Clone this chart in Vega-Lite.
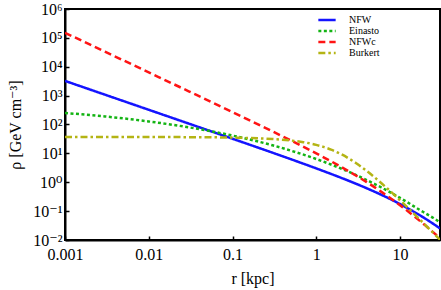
{
  "$schema": "https://vega.github.io/schema/vega-lite/v6.json",
  "width": 375,
  "height": 231,
  "autosize": {"type": "none"},
  "padding": {"left": 65, "top": 9, "right": 1, "bottom": 50},
  "background": "white",
  "config": {
    "view": {"stroke": "black", "strokeWidth": 2},
    "font": "Times New Roman, Liberation Serif, DejaVu Serif, serif",
    "axis": {
      "domainColor": "black", "domainWidth": 2, "tickColor": "black", "tickWidth": 1.5,
      "tickSize": -4, "grid": false, "labelColor": "black", "titleColor": "black",
      "labelFont": "Times New Roman, Liberation Serif, DejaVu Serif, serif", "titleFont": "Times New Roman, Liberation Serif, DejaVu Serif, serif",
      "labelFontSize": 16, "titleFontSize": 16, "titleFontWeight": "normal",
      "labelFlush": false, "labelOverlap": false, "labelBound": false
    },
    "legend": {
      "labelFont": "Times New Roman, Liberation Serif, DejaVu Serif, serif", "labelFontSize": 10, "labelColor": "black"
    }
  },
  "data": {
    "values": [
      {"model": "NFW", "r": 0.001, "rho": 3236},
      {"model": "NFW", "r": 0.003, "rho": 1078},
      {"model": "NFW", "r": 0.01, "rho": 323.2},
      {"model": "NFW", "r": 0.03, "rho": 107.6},
      {"model": "NFW", "r": 0.1, "rho": 32.13},
      {"model": "NFW", "r": 0.3, "rho": 10.56},
      {"model": "NFW", "r": 0.5, "rho": 6.247},
      {"model": "NFW", "r": 1, "rho": 3.017},
      {"model": "NFW", "r": 1.5, "rho": 1.943},
      {"model": "NFW", "r": 2, "rho": 1.41},
      {"model": "NFW", "r": 3, "rho": 0.88},
      {"model": "NFW", "r": 4, "rho": 0.6194},
      {"model": "NFW", "r": 5, "rho": 0.466},
      {"model": "NFW", "r": 6, "rho": 0.3658},
      {"model": "NFW", "r": 8, "rho": 0.2447},
      {"model": "NFW", "r": 10, "rho": 0.1757},
      {"model": "NFW", "r": 12, "rho": 0.1321},
      {"model": "NFW", "r": 15, "rho": 0.09148},
      {"model": "NFW", "r": 20, "rho": 0.0551},
      {"model": "NFW", "r": 25, "rho": 0.03613},
      {"model": "NFW", "r": 30, "rho": 0.02515},

      {"model": "Einasto", "r": 0.001, "rho": 251},
      {"model": "Einasto", "r": 0.003, "rho": 189.7},
      {"model": "Einasto", "r": 0.01, "rho": 127.4},
      {"model": "Einasto", "r": 0.03, "rho": 79.9},
      {"model": "Einasto", "r": 0.1, "rho": 41.3},
      {"model": "Einasto", "r": 0.3, "rho": 19.05},
      {"model": "Einasto", "r": 0.5, "rho": 12.4},
      {"model": "Einasto", "r": 1, "rho": 6.38},
      {"model": "Einasto", "r": 1.5, "rho": 4.11},
      {"model": "Einasto", "r": 2, "rho": 2.94},
      {"model": "Einasto", "r": 3, "rho": 1.762},
      {"model": "Einasto", "r": 4, "rho": 1.19},
      {"model": "Einasto", "r": 5, "rho": 0.865},
      {"model": "Einasto", "r": 6, "rho": 0.658},
      {"model": "Einasto", "r": 8, "rho": 0.417},
      {"model": "Einasto", "r": 10, "rho": 0.2865},
      {"model": "Einasto", "r": 12, "rho": 0.21},
      {"model": "Einasto", "r": 15, "rho": 0.14},
      {"model": "Einasto", "r": 20, "rho": 0.085},
      {"model": "Einasto", "r": 25, "rho": 0.058},
      {"model": "Einasto", "r": 30, "rho": 0.041},

      {"model": "NFWc", "r": 0.001, "rho": 150000},
      {"model": "NFWc", "r": 0.003, "rho": 33270},
      {"model": "NFWc", "r": 0.01, "rho": 6383},
      {"model": "NFWc", "r": 0.03, "rho": 1413},
      {"model": "NFWc", "r": 0.1, "rho": 268.5},
      {"model": "NFWc", "r": 0.3, "rho": 57.7},
      {"model": "NFWc", "r": 0.5, "rho": 27.8},
      {"model": "NFWc", "r": 1, "rho": 9.97},
      {"model": "NFWc", "r": 1.5, "rho": 5.32},
      {"model": "NFWc", "r": 2, "rho": 3.346},
      {"model": "NFWc", "r": 3, "rho": 1.685},
      {"model": "NFWc", "r": 4, "rho": 1.007},
      {"model": "NFWc", "r": 5, "rho": 0.663},
      {"model": "NFWc", "r": 6, "rho": 0.4647},
      {"model": "NFWc", "r": 8, "rho": 0.2586},
      {"model": "NFWc", "r": 10, "rho": 0.1604},
      {"model": "NFWc", "r": 12, "rho": 0.107},
      {"model": "NFWc", "r": 15, "rho": 0.064},
      {"model": "NFWc", "r": 20, "rho": 0.03206},
      {"model": "NFWc", "r": 25, "rho": 0.01836},
      {"model": "NFWc", "r": 30, "rho": 0.01151},

      {"model": "Burkert", "r": 0.001, "rho": 36.98},
      {"model": "Burkert", "r": 0.01, "rho": 36.8},
      {"model": "Burkert", "r": 0.03, "rho": 36.45},
      {"model": "Burkert", "r": 0.1, "rho": 35.15},
      {"model": "Burkert", "r": 0.2, "rho": 33.3},
      {"model": "Burkert", "r": 0.3, "rho": 31.47},
      {"model": "Burkert", "r": 0.5, "rho": 27.86},
      {"model": "Burkert", "r": 0.7, "rho": 24.42},
      {"model": "Burkert", "r": 1, "rho": 19.73},
      {"model": "Burkert", "r": 1.5, "rho": 13.53},
      {"model": "Burkert", "r": 2, "rho": 9.25},
      {"model": "Burkert", "r": 3, "rho": 4.55},
      {"model": "Burkert", "r": 4, "rho": 2.467},
      {"model": "Burkert", "r": 5, "rho": 1.458},
      {"model": "Burkert", "r": 6, "rho": 0.925},
      {"model": "Burkert", "r": 7, "rho": 0.6205},
      {"model": "Burkert", "r": 8, "rho": 0.4353},
      {"model": "Burkert", "r": 10, "rho": 0.2372},
      {"model": "Burkert", "r": 12, "rho": 0.1429},
      {"model": "Burkert", "r": 15, "rho": 0.07603},
      {"model": "Burkert", "r": 20, "rho": 0.0333},
      {"model": "Burkert", "r": 25, "rho": 0.01743},
      {"model": "Burkert", "r": 30, "rho": 0.01023}
    ]
  },
  "mark": {"type": "line", "strokeWidth": 2.5, "interpolate": "monotone", "clip": true},
  "encoding": {
    "x": {
      "field": "r", "type": "quantitative",
      "scale": {"type": "log", "domain": [0.001, 30], "nice": false},
      "axis": {"values": [0.001, 0.01, 0.1, 1, 10], "title": "r  [kpc]", "labelPadding": 10, "titlePadding": 8,
        "labelExpr": "datum.value < 0.005 ? '0.001' : datum.value < 0.05 ? '0.01' : datum.value < 0.5 ? '0.1' : datum.value < 5 ? '1' : '10'"}
    },
    "y": {
      "field": "rho", "type": "quantitative",
      "scale": {"type": "log", "domain": [0.01, 1000000], "nice": false},
      "axis": {"values": [0.01, 0.1, 1, 10, 100, 1000, 10000, 100000, 1000000], "title": "ρ [GeV cm⁻³]", "labelPadding": 7, "titlePadding": 9,
        "labelExpr": "round(log(datum.value)/LN10) == 6 ? '10⁶' : round(log(datum.value)/LN10) == 5 ? '10⁵' : round(log(datum.value)/LN10) == 4 ? '10⁴' : round(log(datum.value)/LN10) == 3 ? '10³' : round(log(datum.value)/LN10) == 2 ? '10²' : round(log(datum.value)/LN10) == 1 ? '10¹' : round(log(datum.value)/LN10) == 0 ? '10⁰' : round(log(datum.value)/LN10) == -1 ? '10⁻¹' : '10⁻²'"}
    },
    "color": {
      "field": "model", "type": "nominal",
      "scale": {"domain": ["NFW", "Einasto", "NFWc", "Burkert"], "range": ["#1414ff", "#14b414", "#ff1414", "#b4b414"]},
      "legend": {"title": null, "orient": "none", "legendX": 252, "legendY": 6, "symbolType": "stroke", "symbolSize": 300, "symbolStrokeWidth": 2.5, "clipHeight": 10, "rowPadding": 1, "labelOffset": 12}
    },
    "strokeDash": {
      "field": "model", "type": "nominal",
      "scale": {"domain": ["NFW", "Einasto", "NFWc", "Burkert"], "range": [[1, 0], [3, 2.5], [7, 4], [7, 3, 2.5, 3]]},
      "legend": {"title": null, "orient": "none", "legendX": 252, "legendY": 6, "symbolType": "stroke", "symbolSize": 300, "symbolStrokeWidth": 2.5, "clipHeight": 10, "rowPadding": 1, "labelOffset": 12}
    }
  }
}
